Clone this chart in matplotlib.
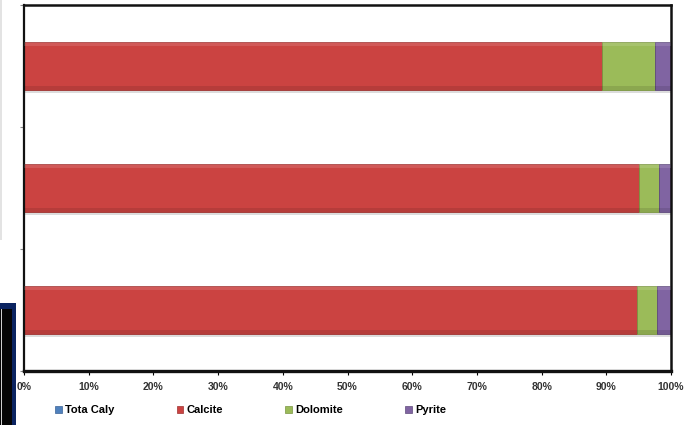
import matplotlib.pyplot as plt
from matplotlib.patches import Patch, Rectangle
import numpy as np

# dados (porcentagem de cada mineral por amostra, de cima para baixo)
amostras = ["Amostra 1", "Amostra 2", "Amostra 3"]
tota_caly = [0.0, 0.0, 0.0]
calcite = [89.4, 95.0, 94.7]
dolomite = [8.2, 3.1, 3.2]
pyrite = [2.4, 1.9, 2.1]

series = ["Tota Caly", "Calcite", "Dolomite", "Pyrite"]
cores = ["#4F81BD", "#CB4341", "#9BBB59", "#8064A2"]
bordas = ["#3B6396", "#9E3230", "#7A9540", "#5F4A7C"]
xticks = [0, 10, 20, 30, 40, 50, 60, 70, 80, 90, 100]

plt.rcParams['font.family'] = ['Liberation Sans', 'DejaVu Sans']

fig = plt.figure(figsize=(6.85, 4.25), dpi=100)
ax = fig.add_axes([24 / 685, 1 - 371 / 425, 647 / 685, 366 / 425])

y = np.arange(len(amostras))
altura = 0.40
valores = [tota_caly, calcite, dolomite, pyrite]
esquerda = np.zeros(len(amostras))
for vals, cor, borda, nome in zip(valores, cores, bordas, series):
    vals = np.array(vals)
    # sombra leve abaixo da barra
    ax.barh(y + 0.025, vals, height=altura, left=esquerda, color="#dcdcdc",
            edgecolor="none", zorder=1)
    ax.barh(y, vals, height=altura, left=esquerda, color=cor,
            edgecolor=borda, linewidth=0.6, zorder=2, label=nome)
    # brilho suave em cima e escurecido embaixo (efeito bisel)
    ax.barh(y - altura / 2 + 0.02, vals, height=0.03, left=esquerda,
            color="white", alpha=0.12, edgecolor="none", zorder=3)
    ax.barh(y + altura / 2 - 0.02, vals, height=0.03, left=esquerda,
            color="black", alpha=0.10, edgecolor="none", zorder=3)
    esquerda = esquerda + vals

ax.set_xlim(0, 100)
ax.set_ylim(2.5, -0.5)
ax.set_xticks(xticks)
ax.set_xticklabels([f"{v}%" for v in xticks], fontsize=7.5, fontweight="bold",
                   color="#333333")
ax.tick_params(axis="x", length=3, width=0.8, pad=5, direction="out")
ax.set_yticks([-0.5, 0.5, 1.5, 2.5])
ax.set_yticklabels([])
ax.tick_params(axis="y", length=3, width=0.8, color="#888888")

for lado, lw in [("left", 1.6), ("top", 1.8), ("right", 1.8), ("bottom", 2.4)]:
    ax.spines[lado].set_linewidth(lw)
    ax.spines[lado].set_color("#111111")

handles = [Patch(facecolor=c, edgecolor=b, linewidth=0.5) for c, b in zip(cores, bordas)]
fig.legend(handles, series, loc="center", bbox_to_anchor=(0.366, 1 - 410 / 425),
           ncol=4, frameon=False, handlelength=0.6, handleheight=0.6,
           handletextpad=0.3, columnspacing=5.6,
           prop={"size": 8, "weight": "bold"})

# restos de outros objetos do slide no canto esquerdo
fig.add_artist(Rectangle((0, 0), 16 / 685, 122 / 425, transform=fig.transFigure,
                         facecolor="#0B2461", edgecolor="none"))
fig.add_artist(Rectangle((0, 0), 12 / 685, 116 / 425, transform=fig.transFigure,
                         facecolor="#050505", edgecolor="none"))
fig.add_artist(Rectangle((1 / 685, 0), 1.2 / 685, 116 / 425, transform=fig.transFigure,
                         facecolor="#cfcfcf", edgecolor="none"))
fig.add_artist(Rectangle((0, 185 / 425), 1.5 / 685, 240 / 425, transform=fig.transFigure,
                         facecolor="#e3e3e3", edgecolor="none"))

fig.savefig("out.png", dpi=100)
